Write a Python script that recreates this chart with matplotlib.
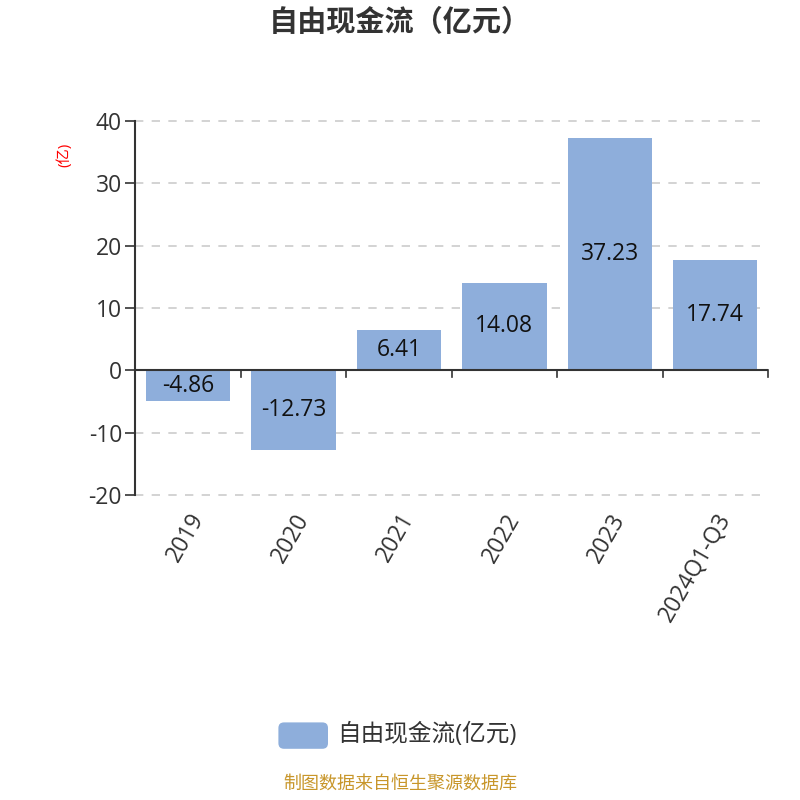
import numpy as np
import matplotlib.pyplot as plt
from matplotlib.patches import FancyBboxPatch

plt.rcParams['font.family'] = ['Open Sans', 'Noto Sans CJK SC', 'DejaVu Sans']

categories = ['2019', '2020', '2021', '2022', '2023', '2024Q1-Q3']
values = [-4.86, -12.73, 6.41, 14.08, 37.23, 17.74]
yticks = [-20, -10, 0, 10, 20, 30, 40]

bar_color = '#8eaedb'
text_color = '#333333'

fig = plt.figure(figsize=(8, 8), dpi=100)
ax = fig.add_axes([0.169, 0.381, 0.791, 0.468])

x = np.arange(len(categories))
ax.bar(x, values, width=0.8, color=bar_color, zorder=2)
for xi, v in zip(x, values):
    ax.text(xi, v / 2, f'{v:.2f}', ha='center', va='center', fontsize=16.5, color='#111111', zorder=3)

ax.set_xlim(-0.5, len(categories) - 0.5)
ax.set_ylim(-20, 40)
ax.set_yticks(yticks)
ax.set_yticklabels([str(t) for t in yticks], fontsize=16.5, color=text_color)
for t in yticks:
    if t != 0:
        ax.axhline(t, linestyle=(0, (5, 5)), color='#cccccc', linewidth=1.2, zorder=0, clip_on=False)
ax.tick_params(axis='y', length=7.5, width=1.2, color=text_color, pad=2)

for s in ['top', 'right', 'bottom']:
    ax.spines[s].set_visible(False)
ax.spines['left'].set_color(text_color)
ax.spines['left'].set_linewidth(1.5)
ax.axhline(0, color=text_color, linewidth=1.5, zorder=3)

# category boundary ticks on the zero line
for b in np.arange(0.5, len(categories), 1.0):
    ax.plot([b, b], [0, -1.0], color=text_color, linewidth=1.2, clip_on=False, zorder=3)

ax.set_xticks(x)
ax.set_xticklabels(categories, rotation=60, ha='right', rotation_mode='anchor', fontsize=16.5, color=text_color)
ax.tick_params(axis='x', length=0, pad=10)

ax.set_ylabel('(亿)', color='red', fontsize=11)
ax.yaxis.set_label_coords(-0.1, 0.91)

fig.text(0.5, 0.971, '自由现金流（亿元）', ha='center', va='center', fontsize=21, fontweight='bold', color=text_color)

# legend
fig.patches.append(FancyBboxPatch((0.348, 0.064), 0.062, 0.033, boxstyle='round,pad=0,rounding_size=0.007',
                                  transform=fig.transFigure, facecolor=bar_color, edgecolor='none'))
fig.text(0.422, 0.081, '自由现金流(亿元)', ha='left', va='center', fontsize=17, color=text_color)

fig.text(0.5, 0.02, '制图数据来自恒生聚源数据库', ha='center', va='center', fontsize=13, color='#c8962a')

fig.savefig('out.png', dpi=100)
